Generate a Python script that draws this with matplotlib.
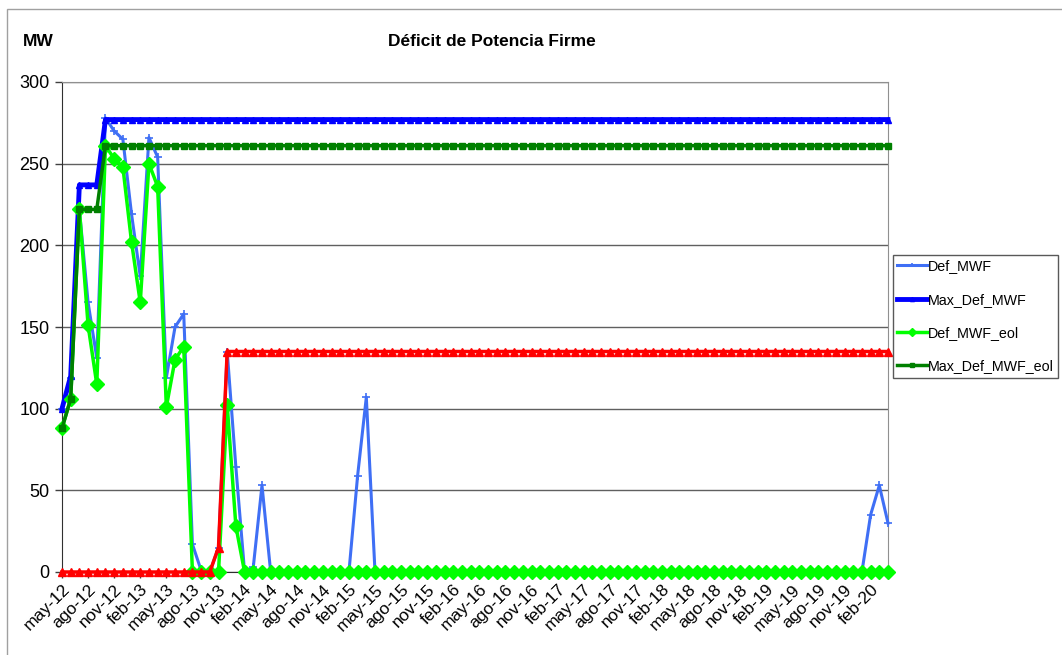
import matplotlib
matplotlib.use("Agg")
import matplotlib.pyplot as plt
from matplotlib.patches import Rectangle

plt.rcParams['font.family'] = ['Liberation Sans', 'DejaVu Sans']

# ---- data (monthly, may-12 .. abr-20) ----
def_mwf = ([100, 119, 222, 165, 131, 278, 270, 265, 219, 181, 266, 254,
            119, 150, 158, 17, 1, 0, 15, 135, 64, 0, 3, 53]
           + [0] * 10 + [59, 107] + [0] * 57 + [35, 53, 30])
max_def_mwf = [100, 120, 237, 237, 237] + [277] * 91
def_mwf_eol = ([88, 106, 222, 151, 115, 261, 253, 248, 202, 165, 250, 236,
                101, 130, 138, 0, 0, 0, 0, 102, 28] + [0] * 75)
max_def_mwf_eol = [88, 106, 222, 222, 222] + [261] * 91
max_red = [0] * 18 + [15] + [135] * 77

tick_labels = ["may-12", "ago-12", "nov-12", "feb-13", "may-13", "ago-13", "nov-13",
               "feb-14", "may-14", "ago-14", "nov-14", "feb-15", "may-15", "ago-15",
               "nov-15", "feb-16", "may-16", "ago-16", "nov-16", "feb-17", "may-17",
               "ago-17", "nov-17", "feb-18", "may-18", "ago-18", "nov-18", "feb-19",
               "may-19", "ago-19", "nov-19", "feb-20"]

W, H = 1062, 655
fig = plt.figure(figsize=(W / 100, H / 100), dpi=100)
ax = fig.add_axes([62 / W, 1 - 572 / H, (888 - 62) / W, (572 - 82) / H])

x = list(range(len(max_def_mwf)))

l1, = ax.plot(x, def_mwf, color='#3F6FF5', lw=2.2, marker='+', ms=6, mew=1.2,
              label='Def_MWF', zorder=3)
l2, = ax.plot(x, max_def_mwf, color='#0000FF', lw=3.5, marker='^', ms=5,
              label='Max_Def_MWF', zorder=4)
l3, = ax.plot(x, def_mwf_eol, color='#00FF00', lw=2.5, marker='D', ms=7,
              label='Def_MWF_eol', zorder=5)
l4, = ax.plot(x, max_def_mwf_eol, color='#008000', lw=2.5, marker='s', ms=4,
              label='Max_Def_MWF_eol', zorder=6)
l5, = ax.plot(x, max_red, color='#FF0000', lw=2.5, marker='^', ms=6,
              zorder=7, clip_on=False)
for l in (l1, l2, l3, l4):
    l.set_clip_on(False)

ax.set_xlim(0, len(x) - 1)
ax.set_ylim(0, 300)
ax.set_yticks(range(0, 301, 50))
ax.yaxis.grid(True, color='#606060', lw=1)
ax.set_axisbelow(True)
ax.set_xticks(range(0, len(x), 3))
ax.set_xticklabels(tick_labels, rotation=45, ha='right', rotation_mode='anchor',
                   fontsize=12.5)
ax.tick_params(axis='y', labelsize=13, length=5, width=1, color='#404040', pad=4)
ax.tick_params(axis='x', length=4, width=1, color='#404040', pad=3)

for s in ('top', 'right'):
    ax.spines[s].set_color('#909090')
ax.spines['left'].set_color('#303030')
ax.spines['bottom'].set_color('#303030')

fig.text(492 / W, 1 - 41 / H, 'Déficit de Potencia Firme', ha='center', va='center',
         fontsize=12.5, fontweight='bold')
fig.text(23 / W, 1 - 42 / H, 'MW', ha='left', va='center', fontsize=12.5,
         fontweight='bold')

# outer chart border
fig.patches.append(Rectangle((7 / W, -0.1), 1.2, 1 - 9 / H + 0.1, transform=fig.transFigure,
                             fill=False, ec='#A0A0A0', lw=1))

leg = fig.legend(handles=[l1, l2, l3, l4], loc='upper left',
                 bbox_to_anchor=(893 / W, 1 - 255 / H), fontsize=10.3,
                 frameon=True, fancybox=False, edgecolor='#303030',
                 handlelength=2.1, handletextpad=0.05, labelspacing=1.35,
                 borderpad=0.3, borderaxespad=0, markerscale=0.6)
leg.get_frame().set_linewidth(1)

fig.savefig('out.png', dpi=100)
